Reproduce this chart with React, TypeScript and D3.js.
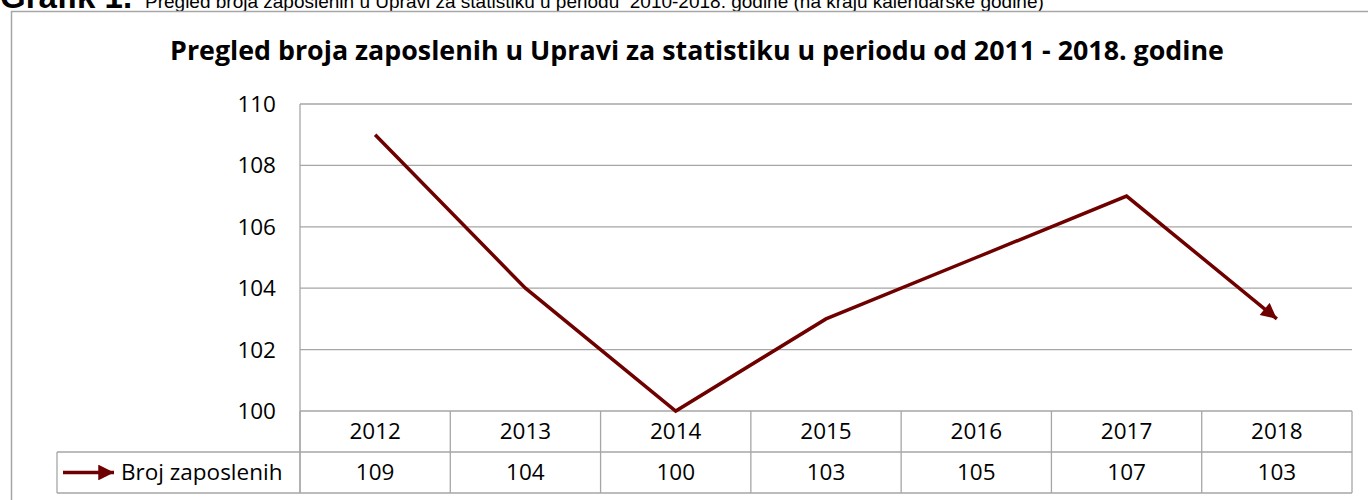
import React from "react";
import * as d3 from "d3";

const years = ["2012", "2013", "2014", "2015", "2016", "2017", "2018"];
const employees = [109, 104, 100, 103, 105, 107, 103];
const yTicks = [100, 102, 104, 106, 108, 110];
const seriesName = "Broj zaposlenih";
const chartTitle = "Pregled broja zaposlenih u Upravi za statistiku u periodu od 2011 - 2018. godine";
const captionBold = "Grafik 1.";
const captionText = "Pregled broja zaposlenih u Upravi za statistiku u periodu  2010-2018. godine (na kraju kalendarske godine)";

const W = 1368;
const H = 500;
const plotLeft = 300;
const plotRight = 1352;
const plotTop = 104;
const plotBottom = 411;
const rowH = 41;
const legendLeft = 57;
const lineColor = "#6f0000";
const gridColor = "#a6a6a6";
const font = "Open Sans, Lato, sans-serif";
const labelSize = 22.5;

export default function App() {
  const x = d3.scaleBand<string>().domain(years).range([plotLeft, plotRight]);
  const y = d3.scaleLinear().domain([100, 110]).range([plotBottom, plotTop]);
  const cx = (yr: string) => (x(yr) as number) + x.bandwidth() / 2;
  const line = d3
    .line<number>()
    .x((_, i) => cx(years[i]))
    .y((d) => y(d));
  const row1 = plotBottom;
  const row2 = plotBottom + rowH;
  const row3 = plotBottom + 2 * rowH;
  const bounds = [...years.map((yr) => x(yr) as number), plotRight];

  return (
    <svg width={W} height={H} style={{ position: "absolute", left: 0, top: 0, display: "block" }}>
      <defs>
        <marker id="arrow" viewBox="0 0 10 10" refX="10" refY="5" markerWidth="5" markerHeight="4.5" markerUnits="strokeWidth" orient="auto">
          <path d="M0,0 L10,5 L0,10 z" fill={lineColor} />
        </marker>
      </defs>
      <rect x={0} y={0} width={W} height={H} fill="#fff" />
      {/* caption */}
      <text x={0} y={8} fontFamily="Liberation Sans, Arial, sans-serif" fontSize={33} fontWeight="bold" fill="#000">
        {captionBold}
      </text>
      <text x={145} y={8} fontFamily="Liberation Sans, Arial, sans-serif" fontSize={19} fill="#000" style={{ whiteSpace: "pre" }}>
        {captionText}
      </text>
      {/* chart frame */}
      <rect x={11.5} y={11.5} width={W + 20} height={H + 20} fill="none" stroke={gridColor} strokeWidth={1.5} />
      {/* title */}
      <text x={697} y={60} textAnchor="middle" fontFamily={font} fontSize={26.8} fontWeight="bold" fill="#000">
        {chartTitle}
      </text>
      {/* grid */}
      {yTicks.map((t) => (
        <line key={t} x1={plotLeft} x2={plotRight} y1={y(t)} y2={y(t)} stroke={gridColor} strokeWidth={1.3} />
      ))}
      <line x1={plotLeft} x2={plotLeft} y1={plotTop} y2={row3} stroke={gridColor} strokeWidth={1.3} />
      {yTicks.map((t) => (
        <text key={"l" + t} x={276} y={y(t) + 8} textAnchor="end" fontFamily={font} fontSize={labelSize} fill="#000">
          {t}
        </text>
      ))}
      {/* data table */}
      <line x1={legendLeft} x2={plotRight} y1={row2} y2={row2} stroke={gridColor} strokeWidth={1.3} />
      <line x1={legendLeft} x2={plotRight} y1={row3} y2={row3} stroke={gridColor} strokeWidth={1.3} />
      <line x1={legendLeft} x2={legendLeft} y1={row2} y2={row3} stroke={gridColor} strokeWidth={1.3} />
      {bounds.map((b, i) => (
        <line key={"v" + i} x1={b} x2={b} y1={row1} y2={row3} stroke={gridColor} strokeWidth={1.3} />
      ))}
      {years.map((yr, i) => (
        <g key={yr}>
          <text x={cx(yr)} y={row1 + 28} textAnchor="middle" fontFamily={font} fontSize={labelSize} fill="#000">
            {yr}
          </text>
          <text x={cx(yr)} y={row2 + 28} textAnchor="middle" fontFamily={font} fontSize={labelSize} fill="#000">
            {employees[i]}
          </text>
        </g>
      ))}
      {/* legend key */}
      <line x1={63} x2={114} y1={row2 + 20.5} y2={row2 + 20.5} stroke={lineColor} strokeWidth={3.5} markerEnd="url(#arrow)" />
      <text x={121} y={row2 + 28} fontFamily={font} fontSize={labelSize} fill="#000">
        {seriesName}
      </text>
      {/* series line */}
      <path d={line(employees) as string} fill="none" stroke={lineColor} strokeWidth={3.5} strokeLinejoin="miter" markerEnd="url(#arrow)" />
    </svg>
  );
}
